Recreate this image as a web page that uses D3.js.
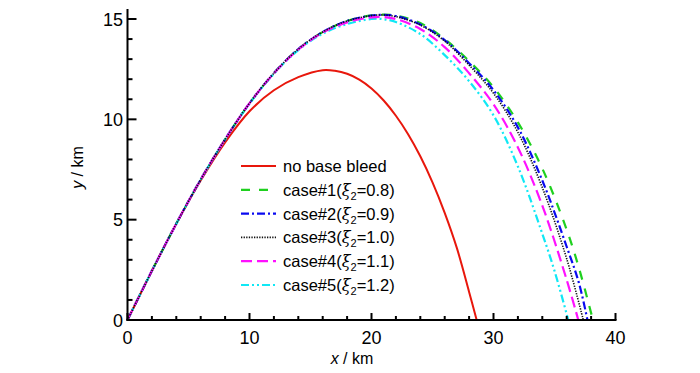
<!DOCTYPE html>
<html>
<head>
<meta charset="utf-8">
<script src="https://cdn.jsdelivr.net/npm/d3@7/dist/d3.min.js"></script>
<style>
  html, body { margin: 0; padding: 0; background: #fff; }
  svg { display: block; font-family: "Liberation Sans", Arial, sans-serif; }
</style>
</head>
<body>
<svg id="chart" width="700" height="373"></svg>
<script>
// ---- data (km) ----
const redX   = [0, 2, 4, 6, 8, 10, 12, 14, 16, 17, 18, 19, 20, 21, 22, 23, 24, 25, 26, 27, 28, 28.62];
const redY   = [0, 2.45, 4.8, 6.95, 8.85, 10.4, 11.45, 12.1, 12.45, 12.42, 12.27, 11.98, 11.54, 10.94, 10.18, 9.26, 8.16, 6.86, 5.34, 3.58, 1.4, 0];

const case1X = [0, 2, 4, 6, 8, 10, 12, 14, 16, 18, 20, 21, 22, 24, 26, 28, 30, 32, 34, 36, 37, 38.15];
const case1Y = [0, 2.45, 4.8, 7.0, 9.0, 10.8, 12.3, 13.5, 14.35, 14.9, 15.18, 15.22, 15.17, 14.8, 14.0, 12.9, 11.6, 9.85, 7.55, 4.5, 2.6, 0];

const case2X = [0, 2, 4, 6, 8, 10, 12, 14, 16, 18, 20, 21, 22, 24, 26, 28, 30, 32, 34, 36, 37, 37.7];
const case2Y = [0, 2.45, 4.8, 7.0, 9.0, 10.8, 12.3, 13.5, 14.35, 14.9, 15.17, 15.21, 15.15, 14.73, 13.95, 12.8, 11.45, 9.6, 6.95, 3.65, 1.85, 0];

const case3X = [0, 2, 4, 6, 8, 10, 12, 14, 16, 18, 20, 21, 22, 24, 26, 28, 30, 32, 34, 36, 37.36];
const case3Y = [0, 2.45, 4.8, 7.0, 9.0, 10.8, 12.3, 13.5, 14.35, 14.9, 15.17, 15.2, 15.12, 14.7, 13.9, 12.7, 11.3, 9.35, 6.6, 3.05, 0];

const case4X = [0, 2, 4, 6, 8, 10, 12, 14, 16, 18, 20, 21, 22, 24, 26, 28, 30, 32, 34, 36, 36.95];
const case4Y = [0, 2.45, 4.8, 7.0, 9.0, 10.8, 12.29, 13.48, 14.32, 14.83, 15.08, 15.1, 15.0, 14.5, 13.6, 12.3, 10.75, 8.6, 5.7, 2.0, 0];

const case5X = [0, 2, 4, 6, 8, 10, 12, 14, 16, 18, 20, 21, 22, 24, 26, 28, 30, 32, 34, 35, 36.13];
const case5Y = [0, 2.45, 4.8, 7.0, 9.0, 10.78, 12.27, 13.45, 14.27, 14.75, 15.0, 14.99, 14.85, 14.25, 13.2, 11.9, 10.2, 7.65, 4.3, 2.45, 0];

const seriesNames = ["no base bleed", "case#1(", "case#2(", "case#3(", "case#4(", "case#5("];
const xiValues = ["", "0.8", "0.9", "1.0", "1.1", "1.2"];
const xTicks = [0, 10, 20, 30, 40];
const yTicks = [0, 5, 10, 15];

// ---- layout ----
const svg = d3.select("#chart");
const x = d3.scaleLinear().domain([0, 40]).range([127.5, 615.5]);
const y = d3.scaleLinear().domain([0, 15]).range([320, 19]);

const styles = [
  { color: "#e8170c", width: 2,   dash: null },
  { color: "#1fd01f", width: 2.2, dash: "9,9" },
  { color: "#0a0af0", width: 2.2, dash: "8,3,2,3" },
  { color: "#111111", width: 1.6, dash: "1.3,1.3" },
  { color: "#ff10ff", width: 2.2, dash: "11,5" },
  { color: "#10e8f5", width: 2.2, dash: "8,3,2,3,2,3" }
];

const data = [
  d3.zip(redX, redY),
  d3.zip(case1X, case1Y),
  d3.zip(case2X, case2Y),
  d3.zip(case3X, case3Y),
  d3.zip(case4X, case4Y),
  d3.zip(case5X, case5Y)
];

const line = d3.line()
  .x(d => x(d[0]))
  .y(d => y(d[1]))
  .curve(d3.curveCatmullRom.alpha(0.5));

// draw order: red, green, blue, cyan, magenta, black
const order = [0, 1, 2, 5, 4, 3];
const gLines = svg.append("g");
order.forEach(i => {
  gLines.append("path")
    .attr("d", line(data[i]))
    .attr("fill", "none")
    .attr("stroke", styles[i].color)
    .attr("stroke-width", styles[i].width)
    .attr("stroke-dasharray", styles[i].dash);
});

// ---- axes ----
const xAxis = svg.append("g");
xAxis.append("line")
  .attr("x1", x(0) - 1).attr("x2", x(40) + 1)
  .attr("y1", y(0)).attr("y2", y(0))
  .attr("stroke", "#000").attr("stroke-width", 2);
d3.range(0, 41, 2).forEach(v => {
  const major = v % 10 === 0;
  xAxis.append("line")
    .attr("x1", x(v)).attr("x2", x(v))
    .attr("y1", y(0)).attr("y2", y(0) - (major ? 7 : 4))
    .attr("stroke", "#000").attr("stroke-width", 2);
});
xAxis.selectAll("text.tick").data(xTicks).enter().append("text")
  .attr("x", d => x(d)).attr("y", 344)
  .attr("text-anchor", "middle")
  .attr("font-size", 18)
  .attr("fill", "#000")
  .text(d => d);

const yAxis = svg.append("g");
yAxis.append("line")
  .attr("x1", x(0)).attr("x2", x(0))
  .attr("y1", y(0) + 1).attr("y2", 9)
  .attr("stroke", "#000").attr("stroke-width", 2);
d3.range(0, 16, 1).forEach(v => {
  const major = v % 5 === 0;
  yAxis.append("line")
    .attr("x1", x(0)).attr("x2", x(0) + (major ? 9 : 5))
    .attr("y1", y(v)).attr("y2", y(v))
    .attr("stroke", "#000").attr("stroke-width", 2);
});
yAxis.selectAll("text.tick").data(yTicks).enter().append("text")
  .attr("x", 123).attr("y", d => y(d) + 6.5)
  .attr("text-anchor", "end")
  .attr("font-size", 18)
  .attr("fill", "#000")
  .text(d => d);

// axis titles
const xt = svg.append("text")
  .attr("x", 352).attr("y", 364)
  .attr("text-anchor", "middle")
  .attr("font-size", 16).attr("fill", "#000");
xt.append("tspan").attr("font-style", "italic").text("x");
xt.append("tspan").text(" / km");

const yt = svg.append("text")
  .attr("transform", "translate(83,167.5) rotate(-90)")
  .attr("text-anchor", "middle")
  .attr("font-size", 16).attr("fill", "#000");
yt.append("tspan").attr("font-style", "italic").text("y");
yt.append("tspan").text(" / km");

// ---- legend ----
const legend = svg.append("g");
seriesNames.forEach((name, i) => {
  const ly = 166 + i * 23.8;
  legend.append("line")
    .attr("x1", 241).attr("x2", 276)
    .attr("y1", ly).attr("y2", ly)
    .attr("stroke", styles[i].color)
    .attr("stroke-width", styles[i].width)
    .attr("stroke-dasharray", styles[i].dash);
  const t = legend.append("text")
    .attr("x", 283).attr("y", ly + 6)
    .attr("font-size", 16.5).attr("fill", "#000");
  t.append("tspan").text(name);
  if (i > 0) {
    t.append("tspan").attr("font-style", "italic").attr("font-family", "'DejaVu Serif', serif").attr("font-size", 16).text("ξ");
    t.append("tspan").attr("font-size", 11).attr("dy", 4).text("2");
    t.append("tspan").attr("dy", -4).text("=" + xiValues[i] + ")");
  }
});
</script>
</body>
</html>
